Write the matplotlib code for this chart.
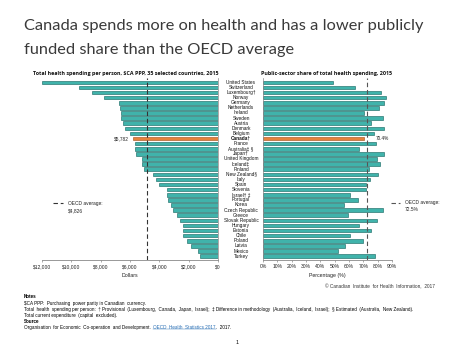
import matplotlib
matplotlib.use("Agg")
import matplotlib.pyplot as plt
from matplotlib.ticker import FuncFormatter

countries = ["United States", "Switzerland", "Luxembourg†", "Norway", "Germany", "Netherlands",
             "Ireland", "Sweden", "Austria", "Denmark", "Belgium", "Canada†", "France",
             "Australia‡ §", "Japan†", "United Kingdom", "Iceland‡", "Finland", "New Zealand§",
             "Italy", "Spain", "Slovenia", "Israel† ‡", "Portugal", "Korea", "Czech Republic",
             "Greece", "Slovak Republic", "Hungary", "Estonia", "Chile", "Poland", "Latvia",
             "Mexico", "Turkey"]
spending = [11970, 9490, 8590, 7800, 6740, 6690, 6630, 6620, 6470, 6340, 6000, 5782, 5680,
            5660, 5565, 5206, 5160, 5070, 4440, 4210, 4010, 3470, 3450, 3380, 3200, 3060,
            2790, 2590, 2410, 2390, 2370, 2140, 1830, 1350, 1260]
public_share = [49.0, 63.9, 82.0, 85.5, 84.5, 80.6, 70.2, 83.9, 75.5, 84.3, 77.4, 70.4, 79.0,
                67.1, 84.1, 79.7, 81.5, 74.1, 80.4, 74.8, 72.2, 72.0, 60.6, 66.0, 56.2, 83.6,
                59.0, 79.7, 66.7, 75.5, 60.9, 69.9, 57.4, 52.0, 78.0]
oecd_spending = 4826
oecd_share = 72.5
highlight = "Canada†"
dollar_ticks = [12000, 10000, 8000, 6000, 4000, 2000, 0]
pct_ticks = [0, 10, 20, 30, 40, 50, 60, 70, 80, 90]

W, H = 474, 356
fig = plt.figure(figsize=(W / 100, H / 100), dpi=100)
fig.patch.set_facecolor("white")

TEAL = "#40b3ab"
EDGE = "#1f6d68"
ORANGE = "#e5813c"
ORANGE_EDGE = "#a95a24"
SANS = ["Liberation Sans", "DejaVu Sans"]

def box(x0, x1, ytop, ybot):
    return [x0 / W, 1 - ybot / H, (x1 - x0) / W, (ybot - ytop) / H]

axL = fig.add_axes(box(42, 218, 78, 260))
axR = fig.add_axes(box(263, 392, 78, 260))

ypos = list(range(len(countries)))
colors = [ORANGE if c == highlight else TEAL for c in countries]
edges = [ORANGE_EDGE if c == highlight else EDGE for c in countries]

for ax, vals in ((axL, spending), (axR, public_share)):
    ax.barh(ypos, vals, height=0.7, color=colors, edgecolor=edges, linewidth=0.45)
    ax.set_ylim(34.76, -0.84)
    ax.set_yticks([])
    ax.spines["top"].set_visible(False)
    ax.spines["bottom"].set_color("#888888")
    ax.spines["bottom"].set_linewidth(0.6)
    ax.tick_params(axis="x", length=1.5, width=0.5, colors="#888888", labelsize=3.6,
                   labelcolor="#222222", pad=1.5)

axL.spines["left"].set_visible(False)
axL.spines["right"].set_color("#888888")
axL.spines["right"].set_linewidth(0.5)
axL.set_xlim(12000, 0)
axL.set_xticks(dollar_ticks)
axL.xaxis.set_major_formatter(FuncFormatter(lambda v, p: "${:,.0f}".format(v)))
axL.axvline(oecd_spending, color="#333333", lw=0.8, ls=(0, (4, 2.5)))

axR.spines["right"].set_visible(False)
axR.spines["left"].set_color("#888888")
axR.spines["left"].set_linewidth(0.5)
axR.set_xlim(0, 90)
axR.set_xticks(pct_ticks)
axR.xaxis.set_major_formatter(FuncFormatter(lambda v, p: "{:.0f}%".format(v)))
axR.axvline(oecd_share, color="#555555", lw=0.8, ls=(0, (4, 2.5)))

for ax in (axL, axR):
    for lab in ax.get_xticklabels():
        lab.set_fontfamily(SANS)

axL.set_xlabel("Dollars", fontsize=3.8, family=SANS, labelpad=3, color="#222222")
axR.set_xlabel("Percentage (%)", fontsize=3.8, family=SANS, labelpad=3, color="#222222")

# country names between panels
for i, c in enumerate(countries):
    y = 1 - (78 + (i + 0.84) * (182 / 35.6)) / H
    fig.text(241 / W, y, c, ha="center", va="center", fontsize=3.4, family=SANS,
             fontweight="bold" if c == highlight else "normal", color="#111111")

# value annotations
ci = countries.index(highlight)
axL.annotate("${:,.0f}".format(spending[ci]), xy=(spending[ci], ci), xytext=(-3, 0),
             textcoords="offset points", ha="right", va="center", fontsize=3.4,
             family=SANS, color="#222222")
axR.annotate("{:.1f}%".format(public_share[ci]), xy=(public_share[ci], ci), xytext=(8.5, 0),
             textcoords="offset points", ha="left", va="center", fontsize=3.4,
             family=SANS, color="#222222")

# subtitles
fig.text(33 / W, 1 - 73 / H, "Total health spending per person, $CA PPP, 35 selected countries, 2015",
         fontsize=3.9, fontweight="bold", family=["Open Sans", "DejaVu Sans"], va="center", color="#111111")
fig.text(261 / W, 1 - 73 / H, "Public-sector share of total health spending, 2015",
         fontsize=3.9, fontweight="bold", family=["Open Sans", "DejaVu Sans"], va="center", color="#111111")

# OECD legends
fig.lines.append(plt.Line2D([52.5 / W, 63 / W], [1 - 203 / H, 1 - 203 / H], transform=fig.transFigure,
                            color="#333333", lw=0.8, ls=(0, (4, 2.5))))
fig.text(67.5 / W, 1 - 203 / H, "OECD average:", fontsize=3.5, family=SANS, va="center", color="#222222")
fig.text(67.5 / W, 1 - 210.5 / H, "${:,.0f}".format(oecd_spending), fontsize=3.5, family=SANS,
         va="center", color="#222222")
fig.lines.append(plt.Line2D([390.5 / W, 400 / W], [1 - 202.5 / H, 1 - 202.5 / H], transform=fig.transFigure,
                            color="#555555", lw=0.8, ls=(0, (4, 2.5))))
fig.text(405 / W, 1 - 202.5 / H, "OECD average:", fontsize=3.5, family=SANS, va="center", color="#222222")
fig.text(405 / W, 1 - 209 / H, "{:.1f}%".format(oecd_share), fontsize=3.5, family=SANS,
         va="center", color="#222222")

# title
fig.text(24 / W, 1 - 26 / H, "Canada spends more on health and has a lower publicly",
         fontsize=11.8, family=["Lato", "DejaVu Sans"], va="center", color="#3a3a3a")
fig.text(24 / W, 1 - 50 / H, "funded share than the OECD average",
         fontsize=11.8, family=["Lato", "DejaVu Sans"], va="center", color="#3a3a3a")

# copyright
fig.text(435 / W, 1 - 286.5 / H, "© Canadian  Institute  for Health  Information,  2017",
         fontsize=3.4, family=SANS, ha="right", va="center", color="#333333")

# notes
nfs = 3.3
fig.text(24 / W, 1 - 297 / H, "Notes", fontsize=nfs, fontweight="bold", family=SANS, va="center")
fig.text(24 / W, 1 - 303.3 / H, "$CA PPP:  Purchasing  power parity in Canadian  currency.",
         fontsize=nfs, family=SANS, va="center")
fig.text(24 / W, 1 - 309.5 / H,
         "Total  health  spending per person:  † Provisional  (Luxembourg,  Canada,  Japan,  Israel);  "
         "‡ Difference in methodology  (Australia,  Iceland,  Israel);  § Estimated  (Australia,  New Zealand).",
         fontsize=nfs, family=SANS, va="center")
fig.text(24 / W, 1 - 315.3 / H, "Total current expenditure  (capital  excluded).",
         fontsize=nfs, family=SANS, va="center")
fig.text(24 / W, 1 - 321.2 / H, "Source", fontsize=nfs, fontweight="bold", family=SANS, va="center")
t1 = fig.text(24 / W, 1 - 327.2 / H, "Organisation  for Economic  Co-operation  and Development.  ",
              fontsize=nfs, family=SANS, va="center")
fig.canvas.draw()
bb = t1.get_window_extent()
t2 = fig.text(bb.x1 / W, 1 - 327.2 / H, "OECD  Health  Statistics 2017", fontsize=nfs, family=SANS,
              va="center", color="#2a6fb5")
fig.canvas.draw()
bb2 = t2.get_window_extent()
fig.lines.append(plt.Line2D([bb2.x0 / W, bb2.x1 / W], [bb2.y0 / H + 0.001, bb2.y0 / H + 0.001],
                            transform=fig.transFigure, color="#2a6fb5", lw=0.3))
fig.text(bb2.x1 / W, 1 - 327.2 / H, ".  2017.", fontsize=nfs, family=SANS, va="center")

fig.text(237 / W, 1 - 342 / H, "1", fontsize=3.8, family=SANS, ha="center", va="center")

fig.savefig("out.png", dpi=100, facecolor="white")
